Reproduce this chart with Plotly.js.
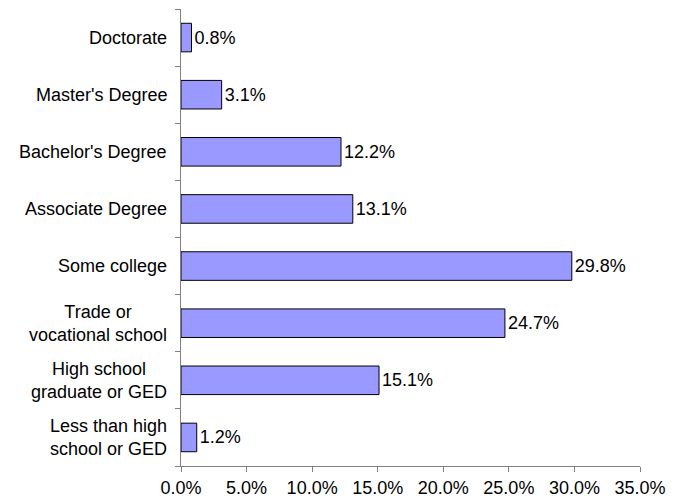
<!DOCTYPE html>
<html>
<head>
<meta charset="utf-8">
<script src="https://cdn.plot.ly/plotly-3.0.1.min.js"></script>
<style>html,body{margin:0;padding:0;background:#fff;}#chart{width:681px;height:501px;}</style>
</head>
<body>
<div id="chart"></div>
<script>
const categories = [
  "Less than high<br>school or GED",
  "High school<br>graduate or GED",
  "Trade or<br>vocational school",
  "Some college",
  "Associate Degree",
  "Bachelor's Degree",
  "Master's Degree",
  "Doctorate"
];
const values = [1.2, 15.1, 24.7, 29.8, 13.1, 12.2, 3.1, 0.8];
const xTicks = [0, 5, 10, 15, 20, 25, 30, 35];

const FONT = "Liberation Sans, Arial, sans-serif";
const FS = 18;

const trace = {
  type: "bar",
  orientation: "h",
  y: categories,
  x: values,
  width: 0.5,
  marker: {color: "#9999FF", line: {color: "#000000", width: 1}},
  texttemplate: "%{x:.1f}%",
  textposition: "outside",
  cliponaxis: false,
  textfont: {family: FONT, size: FS, color: "#000"},
  hoverinfo: "none"
};

const annotations = categories.map(c => ({
  text: c,
  x: 0, xref: "paper",
  y: c, yref: "y",
  xanchor: "right", yanchor: "middle",
  align: "center",
  xshift: -12,
  showarrow: false,
  font: {family: FONT, size: FS, color: "#000"}
}));

const layout = {
  width: 681, height: 501,
  margin: {l: 181, r: 41, t: 9, b: 35},
  paper_bgcolor: "#fff", plot_bgcolor: "#fff",
  showlegend: false,
  font: {family: FONT, size: FS, color: "#000"},
  xaxis: {
    range: [0, 35],
    tickvals: xTicks,
    ticktext: xTicks.map(v => v.toFixed(1) + "%"),
    showgrid: false, zeroline: false,
    showline: true, linecolor: "#808080", linewidth: 1,
    ticks: "outside", ticklen: 5, tickcolor: "#808080",
    tickfont: {family: FONT, size: FS, color: "#000"},
    fixedrange: true
  },
  yaxis: {
    type: "category",
    range: [-0.5, 7.5],
    showticklabels: false,
    showgrid: false, zeroline: false,
    showline: true, linecolor: "#808080", linewidth: 1,
    ticks: "outside", ticklen: 5, tickcolor: "#808080",
    tickson: "boundaries",
    fixedrange: true
  },
  annotations: annotations
};

Plotly.newPlot("chart", [trace], layout, {displayModeBar: false, staticPlot: true});
</script>
</body>
</html>
